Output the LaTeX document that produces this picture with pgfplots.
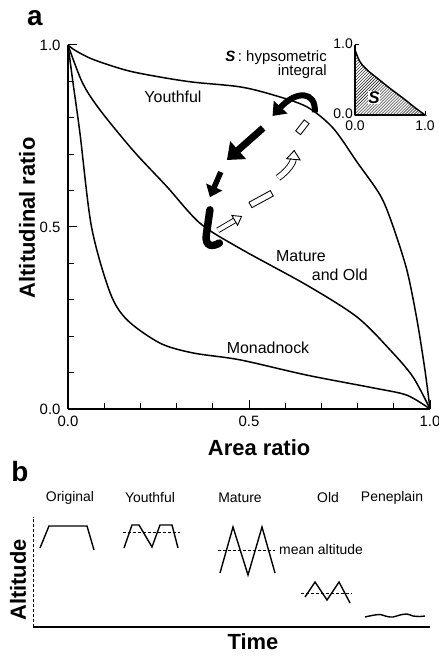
\documentclass[border=0pt]{standalone}
\usepackage{fontspec}
\setmainfont{Liberation Sans}
\usepackage{pgfplots}
\pgfplotsset{compat=1.18}
\usetikzlibrary{patterns,arrows.meta}
\newcommand{\fs}[1]{\fontsize{#1}{#1}\selectfont}
\begin{document}
\begin{tikzpicture}[x=1bp,y=1bp]
\path[use as bounding box] (0,0) rectangle (439,657);
% ---------------- panel a ----------------
\begin{axis}[
  scale only axis, width=362bp, height=364bp,
  at={(68bp,248bp)}, anchor=south west,
  xmin=0,xmax=1,ymin=0,ymax=1,
  axis x line*=bottom, axis y line*=left,
  axis line style={line width=1.5bp, -},
  xtick={0,0.5,1}, ytick={0,0.5,1},
  minor xtick={0.1,0.2,0.3,0.4,0.6,0.7,0.8,0.9},
  minor ytick={0.1,0.2,0.3,0.4,0.6,0.7,0.8,0.9},
  tick align=inside, major tick length=9bp, minor tick length=6bp,
  every tick/.style={black, line width=1bp},
  ticklabel style={font=\fs{15}, /pgf/number format/fixed, /pgf/number format/fixed zerofill, /pgf/number format/precision=1},
  xticklabel style={yshift=-4bp},
  yticklabel style={xshift=-4bp},
  /pgf/number format/assume math mode=true,
  xlabel={Area ratio}, ylabel={Altitudinal ratio},
  label style={font=\bfseries\fs{22}},
  xlabel style={at={(axis description cs:0.528,-0.107)}, anchor=center},
  ylabel style={at={(axis description cs:-0.113,0.525)}, anchor=center},
  clip=false,
]
% Youthful
\addplot[black, line width=1.5bp, smooth] coordinates {
(0,1) (0.02,0.985) (0.07,0.96) (0.163,0.93) (0.254,0.912) (0.345,0.898) (0.475,0.885)
(0.566,0.863) (0.66,0.83) (0.732,0.772) (0.798,0.679) (0.862,0.588) (0.895,0.51)
(0.936,0.382) (0.964,0.245) (0.986,0.107) (1,0)};
% Mature and Old
\addplot[black, line width=1.5bp, smooth] coordinates {
(0,1) (0.04,0.896) (0.088,0.822) (0.18,0.71) (0.273,0.611) (0.365,0.51) (0.475,0.441)
(0.66,0.34) (0.798,0.253) (0.89,0.162) (0.953,0.088) (1,0)};
% Monadnock
\addplot[black, line width=1.5bp, smooth] coordinates {
(0,1) (0.014,0.895) (0.033,0.758) (0.065,0.5) (0.116,0.32) (0.163,0.245) (0.254,0.181)
(0.345,0.154) (0.475,0.135) (0.66,0.093) (0.843,0.058) (0.936,0.038) (1,0)};
% arrows
\draw[line width=6bp, -{Triangle[length=12bp,width=18bp]}] (axis cs:0.682,0.815) .. controls (axis cs:0.685,0.875) and (axis cs:0.63,0.875) .. (axis cs:0.565,0.805);
\draw[line width=7bp, -{Triangle[length=15bp,width=23bp]}] (axis cs:0.539,0.772) -- (axis cs:0.439,0.684);
\draw[line width=5.5bp, -{Triangle[length=11bp,width=17bp]}] (axis cs:0.422,0.651) -- (axis cs:0.392,0.582);
\draw[line width=7.5bp, line cap=round] (axis cs:0.392,0.547) -- (axis cs:0.382,0.478) .. controls (axis cs:0.378,0.445) and (axis cs:0.40,0.445) .. (axis cs:0.418,0.456);
\draw[line width=0.9bp, double=white, double distance=4bp, -{Triangle[open, length=9bp, width=13bp]}] (axis cs:0.414,0.491) -- (axis cs:0.481,0.53);
\draw[line width=7bp] (axis cs:0.503,0.56) -- (axis cs:0.564,0.593);
\draw[white, line width=5bp, shorten <=1bp, shorten >=1bp] (axis cs:0.503,0.56) -- (axis cs:0.564,0.593);
\draw[line width=0.9bp, double=white, double distance=5bp, -{Triangle[open,length=10bp,width=15bp]}] (axis cs:0.58,0.635) to[bend right=25] (axis cs:0.625,0.712);
\draw[line width=7bp] (axis cs:0.635,0.758) -- (axis cs:0.66,0.79);
\draw[white, line width=5bp, shorten <=1bp, shorten >=1bp] (axis cs:0.635,0.758) -- (axis cs:0.66,0.79);
\end{axis}
% inset
\begin{axis}[
  scale only axis, width=70bp, height=70bp,
  at={(355bp,542bp)}, anchor=south west,
  xmin=0,xmax=1,ymin=0,ymax=1,
  axis x line*=bottom, axis y line*=left,
  axis line style={line width=1.3bp, -},
  xtick={0,1}, ytick={0,1},
  tick align=inside, major tick length=4bp,
  every tick/.style={black, line width=1bp},
  ticklabel style={font=\fs{14}, inner sep=1bp, /pgf/number format/fixed, /pgf/number format/fixed zerofill, /pgf/number format/precision=1},
  xticklabel style={yshift=-5bp},
  yticklabel style={xshift=-1bp, yshift=1.5bp},
  /pgf/number format/assume math mode=true,
  clip=false,
]
\addplot[pattern=north east lines, draw=black, line width=1.5bp, smooth] coordinates {
(0,0.93) (0.05,0.8) (0.1,0.72) (0.2,0.62) (0.3,0.54) (0.5,0.38) (0.7,0.23) (0.85,0.11) (1,0)} \closedcycle;
\node[fill=white, inner sep=0.5bp, font=\bfseries\itshape\fs{17}] at (axis cs:0.27,0.25) {S};
\end{axis}
% ---------------- panel b ----------------
\begin{axis}[
  scale only axis, width=397bp, height=110bp,
  at={(33bp,30bp)}, anchor=south west,
  xmin=33,xmax=430,ymin=30,ymax=140,
  axis x line*=bottom, axis y line*=left,
  x axis line style={line width=1.3bp, -},
  y axis line style={line width=0.8bp, densely dashed, -},
  xtick=\empty, ytick=\empty,
  xlabel={Time}, ylabel={Altitude},
  label style={font=\bfseries\fs{22}},
  xlabel style={at={(axis description cs:0.554,-0.136)}, anchor=center},
  ylabel style={at={(axis description cs:-0.038,0.427)}, anchor=center},
  clip=false,
]
\addplot[black, line width=1.4bp] coordinates {(40,109) (49,131) (87,131) (94,107)};
\addplot[black, line width=1.4bp] coordinates {(124,109) (132,132) (139,132) (152,110) (160,132) (172,132) (178,109)};
\addplot[black, line width=0.6bp, densely dashed] coordinates {(123,125) (180,125)};
\addplot[black, line width=1.4bp] coordinates {(220,84) (233,130) (248,82) (262,130) (275,84)};
\addplot[black, line width=0.6bp, densely dashed] coordinates {(218,107) (275,107)};
\addplot[black, line width=1.4bp] coordinates {(305,60) (315,75) (327,57) (339,75) (350,54)};
\addplot[black, line width=0.6bp, densely dashed] coordinates {(301,64) (352,64)};
\addplot[black, line width=1.4bp, smooth] coordinates {(365,40) (372,41.5) (380,42.5) (387,40.5) (393,40) (400,42) (407,43) (413,41) (420,40.5) (425,41)};
\node[font=\fs{14}] at (axis cs:70,159) {Original};
\node[font=\fs{14}] at (axis cs:150,159) {Youthful};
\node[font=\fs{14}] at (axis cs:240,159) {Mature};
\node[font=\fs{14}] at (axis cs:328,159) {Old};
\node[font=\fs{14}] at (axis cs:392,159) {Peneplain};
\node[font=\fs{14}, anchor=west, inner sep=0pt] at (axis cs:279,107) {mean altitude};
\end{axis}
% panel letters and annotations
\node[font=\bfseries\fs{28}] at (35,639) {a};
\node[font=\bfseries\fs{28}] at (20,185) {b};
\node[font=\fs{16}] at (173,560) {Youthful};
\node[font=\fs{16}, anchor=west, inner sep=0pt] at (276,401) {Mature};
\node[font=\fs{16}, anchor=east, inner sep=0pt] at (368,382) {and Old};
\node[font=\fs{16}] at (268,309) {Monadnock};
\node[font=\fs{15}, anchor=east, inner sep=0pt] at (327,599) {\textbf{\textit{S}}\,: hypsometric};
\node[font=\fs{15}, anchor=east, inner sep=0pt] at (327,585) {integral};
\end{tikzpicture}
\end{document}
